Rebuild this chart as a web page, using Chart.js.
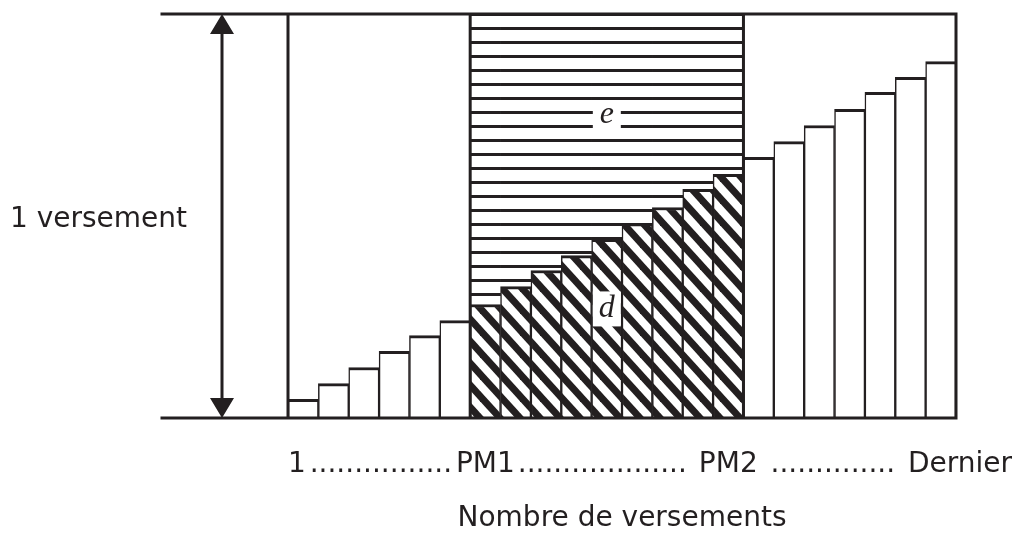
<!DOCTYPE html>
<html lang="fr">
<head>
<meta charset="utf-8">
<title>Nombre de versements</title>
<script src="https://cdn.jsdelivr.net/npm/chart.js@4.4.1/dist/chart.umd.min.js"></script>
<style>
  html, body { margin: 0; padding: 0; background: #fff; }
  canvas { display: block; }
</style>
</head>
<body>
<canvas id="versementsChart" width="1018" height="535"></canvas>
<script>
// numéros de versement
const versements = [1, 2, 3, 4, 5, 6, 7, 8, 9, 10, 11, 12, 13, 14, 15, 16, 17, 18, 19, 20, 21, 22];
// part de capital de chaque versement (% d'un versement)
const partCapital = [4.6, 8.5, 12.5, 16.5, 20.4, 24.1, 28.1, 32.5, 36.5, 40.2, 44.2,
                     48.1, 52.1, 56.6, 60.3, 64.5, 68.4, 72.4, 76.4, 80.6, 84.3, 88.2];
// repères sous l'axe des versements
const tickLabels = ["1", "PM1", "PM2", "Dernier"];
const tickIndex = [0, 6, 14, 21];
const axisTitle = "Nombre de versements";
const yTitle = "1 versement";
const versementTotal = 100;

const INK = "#231f20";
const FONT = "'DejaVu Sans', sans-serif";

const pm1 = tickIndex[1];
const pm2 = tickIndex[2];
const inPeriod = i => i >= pm1 && i <= pm2;

// intérêts (e) : reste du versement, entre PM1 et PM2 seulement
const partInteret = partCapital.map((v, i) => inPeriod(i) ? versementTotal - v : null);

// hachures obliques pour la part de capital d
function makeHatch() {
  const w = 20, h = 22;
  const c = document.createElement("canvas");
  c.width = w; c.height = h;
  const g = c.getContext("2d");
  g.fillStyle = "#fff";
  g.fillRect(0, 0, w, h);
  g.strokeStyle = INK;
  g.lineWidth = 7;
  for (let k = -1; k <= 1; k++) {
    g.beginPath();
    g.moveTo(k * w - w, -h);
    g.lineTo(k * w + 2 * w, 2 * h);
    g.stroke();
  }
  return g.createPattern(c, "repeat");
}

// lignes horizontales pour la part d'intérêts e
function makeLines() {
  const c = document.createElement("canvas");
  c.width = 8; c.height = 14;
  const g = c.getContext("2d");
  g.fillStyle = "#fff";
  g.fillRect(0, 0, 8, 14);
  g.fillStyle = INK;
  g.fillRect(0, 0, 8, 2);
  g.fillRect(0, 13, 8, 1);
  return g.createPattern(c, "repeat");
}

const hatch = makeHatch();
const lines = makeLines();

function boxedLabel(ctx, text, cx, cy, h) {
  ctx.font = "italic 32px 'Liberation Serif', serif";
  ctx.fillStyle = "#fff";
  ctx.fillRect(cx - 14, cy - h / 2, 28, h);
  ctx.fillStyle = INK;
  ctx.textAlign = "center";
  ctx.textBaseline = "middle";
  ctx.fillText(text, cx, cy);
}

const decorPlugin = {
  id: "decor",
  afterDatasetsDraw(chart) {
    const { ctx, chartArea: area, scales: { x, y } } = chart;
    const half = (x.getPixelForValue(1) - x.getPixelForValue(0)) / 2;
    const top = y.getPixelForValue(versementTotal);
    const bottom = y.getPixelForValue(0);
    const lineStart = 162;
    const arrowX = 222;

    ctx.save();
    ctx.strokeStyle = INK;
    ctx.lineWidth = 3;
    ctx.lineCap = "square";

    // cadre : haut (1 versement), base, séparations PM1 / PM2
    ctx.beginPath();
    ctx.moveTo(lineStart, top); ctx.lineTo(area.right, top);
    ctx.moveTo(lineStart, bottom); ctx.lineTo(area.right, bottom);
    const cols = [area.left, x.getPixelForValue(pm1) - half, x.getPixelForValue(pm2) + half, area.right];
    cols.forEach(px => { ctx.moveTo(px, top); ctx.lineTo(px, bottom); });
    ctx.stroke();

    // flèche double
    ctx.lineCap = "butt";
    ctx.beginPath();
    ctx.moveTo(arrowX, top + 18); ctx.lineTo(arrowX, bottom - 18);
    ctx.stroke();
    ctx.fillStyle = INK;
    ctx.beginPath();
    ctx.moveTo(arrowX, top); ctx.lineTo(arrowX - 12, top + 20); ctx.lineTo(arrowX + 12, top + 20);
    ctx.closePath();
    ctx.moveTo(arrowX, bottom); ctx.lineTo(arrowX - 12, bottom - 20); ctx.lineTo(arrowX + 12, bottom - 20);
    ctx.closePath();
    ctx.fill();

    ctx.font = "28px " + FONT;
    ctx.textAlign = "left";
    ctx.textBaseline = "alphabetic";
    ctx.fillText(yTitle, 10, (top + bottom) / 2 + 11);

    // étiquettes e et d
    const midX = (cols[1] + cols[2]) / 2;
    boxedLabel(ctx, "e", midX, y.getPixelForValue(75), 26);
    boxedLabel(ctx, "d", midX, y.getPixelForValue(27), 35);

    // ligne des repères : 1.....PM1..... PM2 ..... Dernier
    ctx.font = "28px " + FONT;
    ctx.textAlign = "left";
    ctx.textBaseline = "alphabetic";
    const lineY = bottom + 54;
    const items = tickLabels.map((t, k) => {
      const px = x.getPixelForValue(tickIndex[k]);
      const w = ctx.measureText(t).width;
      let x0 = px - w / 2;
      if (k === 0) x0 = px - half;
      if (k === tickLabels.length - 1) x0 = px + half - w / 2 + 4;
      return { t, x0, x1: x0 + w };
    });
    const dotW = ctx.measureText(".").width;
    items.forEach((it, k) => {
      ctx.fillText(it.t, it.x0, lineY);
      const next = items[k + 1];
      if (!next) return;
      const padL = k === 2 ? 10 : 1;
      const padR = k === 0 ? 1 : 10;
      const a = it.x1 + padL, b = next.x0 - padR;
      const n = Math.floor((b - a) / dotW);
      ctx.fillText(".".repeat(n), (a + b) / 2 - (n * dotW) / 2, lineY);
    });

    ctx.textAlign = "center";
    ctx.fillText(axisTitle, (area.left + area.right) / 2, bottom + 108);
    ctx.restore();
  }
};

new Chart(document.getElementById("versementsChart"), {
  type: "bar",
  data: {
    labels: versements,
    datasets: [
      {
        label: "d",
        data: partCapital,
        backgroundColor: c => inPeriod(c.dataIndex) ? hatch : "#fff",
        borderColor: INK,
        borderWidth: { top: 3, left: 1.5, right: 1.5, bottom: 0 },
        borderSkipped: "start"
      },
      {
        label: "e",
        data: partInteret,
        backgroundColor: lines,
        borderWidth: 0
      }
    ]
  },
  options: {
    responsive: false,
    animation: false,
    devicePixelRatio: 1,
    barPercentage: 1,
    categoryPercentage: 1,
    layout: { padding: { left: 288, right: 62, top: 14, bottom: 117 } },
    scales: {
      x: { stacked: true, display: false },
      y: { stacked: true, display: false, min: 0, max: versementTotal }
    },
    plugins: {
      legend: { display: false },
      tooltip: { enabled: false }
    }
  },
  plugins: [decorPlugin]
});
</script>
</body>
</html>
